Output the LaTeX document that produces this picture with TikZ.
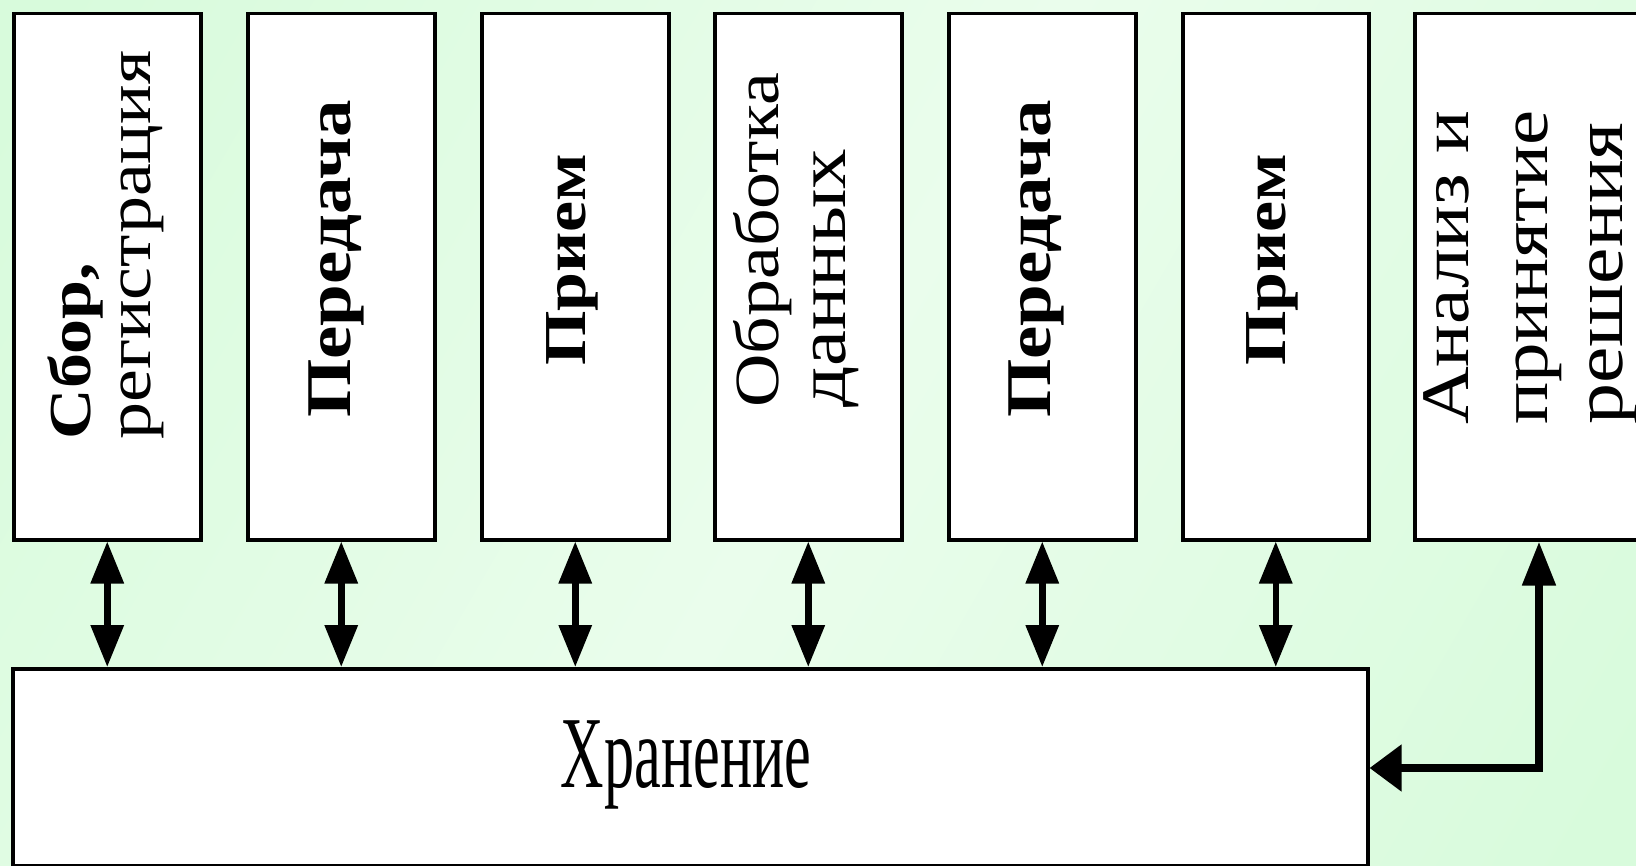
\documentclass[tikz,border=0pt]{standalone}
\usepackage{fontspec}
\setmainfont{Liberation Serif}
\usetikzlibrary{arrows.meta}
\definecolor{bgedge}{RGB}{216,251,220}
\definecolor{bgmid}{RGB}{234,253,236}
\newcommand{\squeezed}[2]{\scalebox{1}[0.85]{\fontsize{#1}{#1}\selectfont #2}}
\begin{document}
\begin{tikzpicture}[x=1pt,y=-1pt,
  box/.style={draw=black, fill=white, line width=3.5pt, rectangle, inner sep=0pt, anchor=north west},
  vt/.style={rotate=90, anchor=base west, inner sep=0pt},
  link/.style={line width=6.5pt, {Triangle[length=42pt,width=32pt]}-{Triangle[length=42pt,width=32pt]}},
  elbow/.style={line width=8pt, {Triangle[length=32pt,width=45pt]}-{Triangle[length=44pt,width=32pt]}},
]
\useasboundingbox (0,0) rectangle (1636,866);
\clip (0,0) rectangle (1636,866);
\shade[left color=bgedge, right color=bgedge, middle color=bgmid, shading angle=60] (-200,-200) rectangle (1836,1066);

% top boxes
\node[box, minimum width=187pt, minimum height=526pt] (b1) at (12,12) {};
\node[box, minimum width=187pt, minimum height=526pt] (b2) at (246,12) {};
\node[box, minimum width=187pt, minimum height=526pt] (b3) at (480,12) {};
\node[box, minimum width=187pt, minimum height=526pt] (b4) at (713,12) {};
\node[box, minimum width=187pt, minimum height=526pt] (b5) at (947,12) {};
\node[box, minimum width=186pt, minimum height=526pt] (b6) at (1181,12) {};
\node[box, minimum width=280pt, minimum height=526pt] (b7) at (1413,12) {};

% bottom box
\node[box, minimum width=1355pt, minimum height=197pt] (store) at (11,667) {};
\node[inner sep=0pt, anchor=base] (storelbl) at (686,787) {\scalebox{0.59}[1]{\fontsize{102}{102}\selectfont Хранение}};

% texts
\node[vt] (t1a) at (90,440) {\squeezed{70}{\bfseries Сбор,}};
\node[vt] (t1b) at (150,440) {\squeezed{74}{регистрация}};
\node[vt] (t2) at (350,418) {\squeezed{75}{\bfseries Передача}};
\node[vt] (t3) at (585,366) {\squeezed{70}{\bfseries Прием}};
\node[vt] (t4a) at (778,408) {\squeezed{74}{Обработка}};
\node[vt] (t4b) at (845,408) {\squeezed{81}{данных}};
\node[vt] (t5) at (1050,418) {\squeezed{75}{\bfseries Передача}};
\node[vt] (t6) at (1285,366) {\squeezed{70}{\bfseries Прием}};
\node[vt] (t7a) at (1468,425) {\squeezed{80}{Анализ и}};
\node[vt] (t7b) at (1547,425) {\squeezed{79}{принятие}};
\node[vt] (t7c) at (1622,425) {\squeezed{82}{решения}};

% connectors
\foreach \b in {b1,b2,b3,b4,b5,b6}{
  \draw[link] (\b.south) -- (\b.south |- store.north);
}
\coordinate (corner) at (1539,768);
\draw[elbow] (corner -| store.east) -- (corner) -- (corner |- b7.south);
\end{tikzpicture}
\end{document}
